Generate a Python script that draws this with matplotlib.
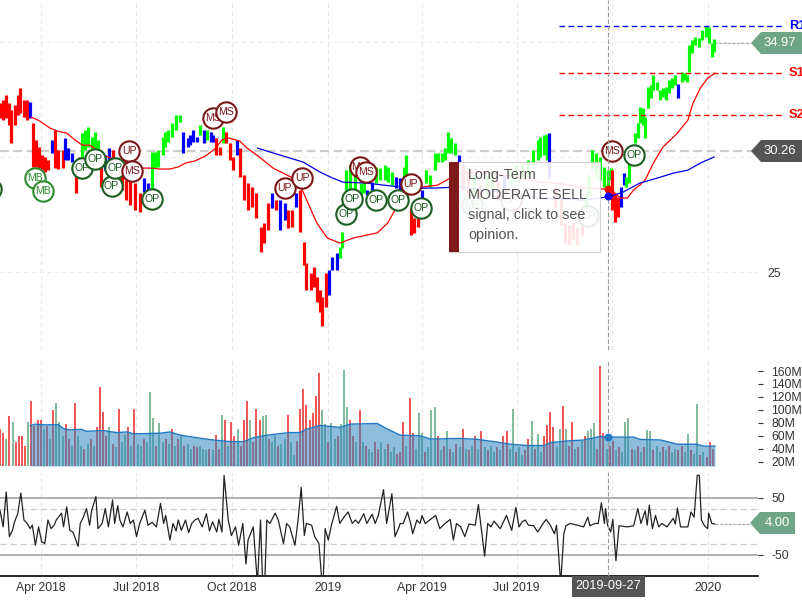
# %% Imports

import matplotlib

matplotlib.use("Agg")
import matplotlib.dates as mdates
import matplotlib.pyplot as plt
import numpy as np
from matplotlib.patches import Polygon, Rectangle

plt.rcParams["font.family"] = ["Liberation Sans", "DejaVu Sans"]
plt.rcParams["font.size"] = 8.8

W, H = 802, 600

# %% Data (days are counted from the left edge of the chart)

bar_day = [
    0, 3, 6, 9, 11, 14, 17, 19, 23, 26,
    29, 32, 35, 37, 40, 43, 46, 50, 53, 56,
    60, 62, 65, 69, 73, 76, 79, 82, 84, 88,
    91, 94, 97, 101, 105, 108, 113, 117, 121, 125,
    130, 134, 138, 142, 146, 149, 152, 156, 158, 161,
    165, 169, 173, 176, 180, 182, 185, 189, 192, 196,
    199, 202, 204, 207, 211, 214, 217, 221, 224, 227,
    230, 234, 238, 242, 246, 250, 253, 257, 261, 265,
    269, 273, 276, 280, 284, 288, 292, 294, 298, 301,
    304, 307, 309, 313, 316, 319, 323, 326, 328, 332,
    336, 341, 346, 349, 352, 357, 361, 365, 369, 372,
    376, 380, 384, 388, 390, 394, 397, 401, 405, 409,
    413, 417, 420, 424, 427, 430, 433, 437, 440, 444,
    449, 455, 461, 467, 472, 478, 484, 490, 495, 501,
    507, 511, 516, 518, 522, 525, 527, 533, 538, 542,
    546, 550, 554, 558, 562, 565, 568, 572, 576, 580,
    583, 586, 587, 590, 593, 596, 599, 601, 604, 607,
    609, 612, 614, 617, 619, 622, 625, 627, 630, 633,
    636, 639, 642, 645, 648, 651, 654, 657, 659, 661,
    664, 667, 671, 674, 677, 680, 683, 685,
]
bar_high = [
    32.35, 32.48, 32.70, 32.35, 32.04, 32.26, 32.70, 33.00, 32.48, 32.48,
    32.39, 31.48, 30.74, 30.43, 30.09, 30.00, 29.87, 30.74, 31.17, 30.30,
    30.30, 30.83, 30.39, 30.17, 29.87, 30.00, 31.04, 31.17, 31.30, 30.87,
    31.09, 30.74, 29.57, 30.09, 30.39, 30.30, 29.43, 29.22, 29.00, 29.00,
    28.87, 28.43, 29.09, 28.87, 30.22, 30.22, 30.30, 30.87, 31.09, 31.17,
    31.48, 31.83, 31.83, 31.09, 30.83, 30.96, 31.17, 30.87, 31.39, 31.17,
    31.17, 31.09, 30.96, 30.83, 30.43, 31.30, 31.09, 30.61, 30.00, 30.74,
    30.39, 29.22, 28.87, 28.70, 28.43, 26.96, 27.13, 28.00, 28.43, 28.13,
    28.13, 28.00, 27.70, 27.70, 28.43, 28.57, 26.30, 25.39, 24.96, 25.22,
    24.78, 24.22, 23.91, 24.96, 25.09, 25.65, 25.83, 26.09, 26.74, 29.43,
    29.65, 29.22, 28.87, 29.43, 28.57, 28.91, 29.57, 29.52, 29.65, 29.57,
    29.35, 29.13, 29.09, 29.57, 30.09, 27.78, 27.35, 27.35, 28.57, 29.43,
    29.22, 30.17, 30.17, 30.17, 30.39, 31.09, 30.83, 30.61, 30.09, 29.65,
    29.43, 29.22, 28.78, 29.22, 29.43, 29.00, 29.22, 29.43, 29.65, 29.74,
    29.87, 30.30, 30.74, 30.87, 30.96, 31.00, 31.04, 28.70, 28.13, 27.13,
    27.04, 27.17, 26.91, 27.48, 28.35, 29.22, 30.30, 30.17, 30.00, 29.57,
    29.43, 29.52, 29.43, 28.43, 28.26, 28.70, 29.30, 29.13, 29.87, 30.52,
    31.04, 31.48, 32.17, 32.13, 31.74, 33.04, 33.13, 33.57, 33.26, 32.91,
    33.00, 33.04, 33.35, 33.43, 33.57, 33.17, 33.70, 33.65, 33.57, 34.87,
    35.09, 35.22, 35.17, 35.52, 35.70, 35.65, 34.96, 35.13,
]
bar_low = [
    31.70, 31.61, 31.70, 31.40, 30.60, 31.40, 31.83, 31.91, 31.74, 31.61,
    31.70, 29.57, 29.57, 29.52, 29.43, 29.35, 29.43, 30.17, 29.52, 29.48,
    29.52, 29.87, 29.87, 29.78, 28.43, 29.22, 30.00, 30.30, 30.43, 30.30,
    30.39, 29.87, 28.70, 29.43, 29.57, 29.35, 28.78, 28.57, 28.13, 27.91,
    27.70, 27.61, 28.48, 28.35, 28.35, 29.52, 29.57, 30.09, 30.43, 30.65,
    30.87, 31.17, 31.52, 30.17, 30.43, 30.52, 30.65, 30.65, 30.96, 30.61,
    30.74, 30.65, 30.65, 30.09, 30.09, 30.61, 30.61, 29.87, 29.43, 30.09,
    29.13, 28.13, 27.70, 27.83, 27.35, 25.87, 26.26, 26.83, 27.78, 27.70,
    26.83, 27.26, 26.91, 26.96, 27.83, 26.74, 25.30, 24.22, 24.22, 24.35,
    23.70, 23.26, 22.65, 23.48, 24.00, 25.09, 25.09, 25.61, 26.04, 28.57,
    28.57, 28.35, 28.35, 28.43, 28.35, 28.57, 28.87, 29.00, 29.00, 28.91,
    28.78, 28.65, 28.57, 29.09, 29.22, 26.61, 26.70, 26.96, 28.13, 28.87,
    28.70, 29.43, 29.78, 29.78, 29.87, 30.17, 30.17, 30.09, 29.78, 28.57,
    28.13, 28.35, 27.91, 28.35, 28.57, 28.13, 28.57, 28.78, 29.00, 29.09,
    29.22, 29.65, 29.87, 30.00, 30.09, 29.87, 29.09, 27.83, 27.04, 26.26,
    26.17, 26.39, 26.17, 26.61, 27.48, 28.35, 29.43, 29.13, 29.00, 28.70,
    28.70, 29.00, 27.70, 27.17, 27.39, 27.83, 28.78, 28.70, 28.87, 29.65,
    30.61, 30.83, 31.48, 31.39, 30.83, 32.13, 32.57, 32.91, 32.91, 32.48,
    32.61, 32.48, 32.78, 33.00, 33.13, 32.57, 33.26, 33.35, 33.26, 33.70,
    34.52, 34.87, 34.78, 35.09, 35.22, 34.96, 34.35, 34.57,
]
bar_trend = (
    "rrrrrrrrrr" "brrrrrrbrr" "rbbbrrgggg" "ggrbbrrrrr" "rrbbgggggg"
    "gggbbbbbgb" "gbbrrgrrrb" "rrrrrrrrbr" "bbrrbrrrrr" "rrrrbbbggg"
    "ggggbbgggg" "gbbggrrrbg" "ggggggggbr" "rgrggrbggg" "ggggggbrrr"
    "rrrrgggggg" "ggrrrbbggg" "gggggggggg" "gggggbgggg" "gggggggg"
)

red_ma_day = [
    30, 38, 48, 55, 64, 72, 79, 86, 93, 99, 106, 115, 125, 134, 144, 154, 163,
    171, 178, 187, 197, 206, 213, 219, 230, 237, 245, 250, 262, 281, 290, 304,
    314, 326, 339, 352, 362, 372, 379, 387, 406, 420, 432, 442, 461, 490, 518,
    541, 562, 576, 586, 595, 602, 608, 614, 619, 627, 636, 650, 660, 665, 672,
    679, 686,
]
red_ma = [
    31.74, 31.57, 31.26, 31.13, 31.04, 30.74, 30.52, 30.52, 30.30, 30.09,
    29.96, 29.87, 29.70, 29.52, 29.52, 29.48, 29.48, 29.57, 29.74, 29.83,
    30.04, 30.35, 30.74, 30.83, 30.70, 30.39, 30.13, 29.96, 29.52, 29.09,
    28.57, 27.13, 26.48, 26.26, 26.48, 26.61, 26.70, 27.13, 27.70, 28.22,
    28.70, 28.78, 29.09, 29.30, 29.35, 29.17, 28.91, 28.83, 28.65, 28.61,
    28.61, 28.22, 28.22, 28.57, 28.78, 29.00, 29.74, 30.43, 31.04, 31.61,
    32.35, 33.00, 33.43, 33.65,
]
blue_ma_day = [
    247, 259, 291, 307, 319, 329, 352, 368, 384, 400, 416, 442, 480, 518, 560,
    576, 586, 598, 614, 631, 646, 660, 672, 685,
]
blue_ma = [
    30.39, 30.22, 29.78, 29.35, 29.09, 28.91, 28.87, 28.78, 28.70, 28.65,
    28.65, 28.70, 28.48, 28.22, 28.13, 28.22, 28.30, 28.48, 28.87, 29.09,
    29.30, 29.43, 29.74, 30.00,
]

signal_day = [
    -9, 34, 41, 79, 91, 107, 110, 124, 127, 146, 204, 217, 273, 290, 332, 338,
    345, 351, 361, 382, 394, 404, 453, 490, 564, 587, 608,
]
signal_price = [
    28.61, 29.09, 28.52, 29.52, 29.91, 28.74, 29.52, 30.26, 29.39, 28.17,
    31.70, 31.96, 28.65, 29.09, 27.52, 28.17, 29.57, 29.35, 28.13, 28.13,
    28.83, 27.78, 27.91, 28.13, 27.43, 30.26, 30.09,
]
signal_label = [
    "OP", "MB", "MB", "OP", "OP", "OP", "OP", "UP", "MS", "OP",
    "MS", "MS", "UP", "UP", "OP", "OP", "MS", "MS", "OP", "OP",
    "UP", "OP", "MB", "UP", "OP", "MS", "OP",
]

volume = [
    71, 64, 55, 90, 82, 51, 60, 60, 45, 82,
    114, 75, 84, 84, 70, 75, 55, 100, 110, 82,
    60, 78, 55, 45, 110, 60, 45, 40, 48, 55,
    45, 73, 135, 97, 60, 73, 48, 42, 102, 50,
    62, 73, 45, 101, 48, 45, 55, 50, 128, 87,
    45, 80, 50, 55, 48, 70, 45, 55, 60, 45,
    48, 40, 45, 42, 45, 40, 38, 40, 38, 62,
    40, 92, 85, 45, 82, 60, 70, 45, 85, 113,
    84, 50, 102, 85, 90, 92, 55, 50, 60, 45,
    48, 55, 92, 50, 30, 52, 102, 133, 107, 85,
    95, 121, 157, 100, 78, 50, 80, 55, 60, 78,
    162, 105, 85, 60, 50, 100, 50, 45, 40, 35,
    50, 40, 50, 40, 48, 35, 42, 32, 35, 82,
    45, 118, 65, 40, 95, 65, 35, 42, 100, 104,
    60, 38, 45, 68, 40, 35, 48, 42, 71, 40,
    38, 45, 60, 40, 68, 42, 38, 45, 35, 42,
    38, 60, 68, 40, 101, 35, 42, 30, 38, 55,
    83, 40, 63, 35, 60, 77, 96, 73, 42, 70,
    106, 70, 45, 82, 40, 42, 52, 60, 68, 70,
    80, 40, 168, 65, 40, 45, 52, 38, 42, 35,
    82, 87, 40, 38, 45, 35, 42, 69, 68, 38,
    45, 35, 42, 38, 45, 35, 40, 38, 45, 35,
    63, 38, 32, 109, 30, 35, 28, 50, 40,
]
volume_side = (
    "rrgrgrrrrg" "rrrrgrgrgg" "grrgrggrgr" "grrrrgrgrg" "grgrggrggg"
    "rggrgrgrgr" "ggrrgggrgr" "rgrgrrgrrr" "grrrggrggr" "ggrggrrrrr"
    "rrrggrggrg" "ggrrgrgrgg" "rrggrggrrr" "grrgggrggg" "rgrgrgrgrg"
    "rgrgrgrggr" "grrggrggrr" "grggrrrrgg" "rgrrgrgrgg" "grrrgrrgrg"
    "ggrgrgrggr" "ggrgrggrrg" "grggrgrrr"
)
vol_ma_day = [
    29, 34, 40, 56, 61, 67, 78, 83, 99, 112,
    122, 128, 154, 163, 173, 189, 202, 221, 234, 243,
    256, 278, 288, 294, 307, 326, 336, 362, 371, 384,
    403, 413, 442, 458, 474, 490, 506, 522, 528, 544,
    560, 576, 589, 608, 614, 634, 650, 669, 675, 686,
]
vol_ma = [
    75.6, 78, 77, 77, 71, 69, 70, 67, 68, 65,
    66, 63, 64, 66, 61, 57, 54, 51, 51, 57,
    61, 65, 65, 70, 76, 73, 78, 79, 71, 61,
    60, 55, 56, 54.5, 51, 47, 45, 45, 49.4, 52,
    53.5, 59, 58, 58, 54.5, 53.5, 47, 47, 44, 44,
]

cci_day = [
    0, 3, 6, 9, 12, 14, 17, 20, 23, 26, 29, 31, 34, 37, 40, 43, 46, 49, 52, 54,
    59, 61, 64, 67, 70, 75, 77, 80, 83, 86, 88, 92, 94, 98, 101, 104, 108, 110,
    113, 115, 118, 122, 125, 128, 131, 134, 139, 142, 146, 150, 154, 157, 159,
    163, 166, 169, 171, 174, 178, 181, 184, 187, 190, 194, 198, 201, 204, 208,
    210, 213, 215, 219, 222, 226, 229, 233, 236, 238, 243, 247, 250, 252, 254,
    256, 259, 264, 267, 272, 275, 278, 283, 286, 289, 292, 294, 299, 302, 306,
    309, 310, 312, 315, 318, 323, 326, 330, 334, 338, 341, 344, 349, 352, 357,
    360, 363, 368, 371, 376, 379, 383, 384, 387, 391, 394, 396, 400, 403, 405,
    408, 413, 418, 422, 427, 432, 435, 438, 442, 446, 450, 456, 459, 462, 465,
    468, 471, 474, 480, 486, 491, 495, 498, 501, 504, 507, 512, 516, 520, 524,
    528, 532, 534, 538, 541, 543, 547, 554, 560, 564, 566, 571, 574, 577, 580,
    581, 583, 586, 588, 591, 594, 602, 608, 612, 615, 619, 621, 623, 626, 629,
    632, 635, 640, 646, 648, 650, 653, 660, 663, 666, 669, 671, 673, 676, 679,
    680, 683, 686,
]
cci = [
    28, -1, 60, -18, -7, 8, 22, 58, 11, 5, -4, 2, -33, -1, -27, -30, 11, -4, 2, 11,
    23, -1, 34, -7, -10, -35, 5, 16, 31, 2, 28, 52, -4, 5, 31, -1, 46, 5,
    36, 11, -1, 25, 5, 11, -18, 5, 28, 2, 7, -1, 40, 5, 19,
    -24, 5, -8, 11, -7, 11, -11, 5, 11, 14, -1, 22, -8, 8, -10,
    12, -10, 89, 11, -16, -1, -33, 5, -66, -24, -1, -100, 11, -100, -100,
    11, 5, 23, 11, -30, 5, -1, -33, 11, 68, -16, 5, 2, -18, -30,
    -100, -100, -4, -24, 2, 35, 5, 16, 25, 5, 11, 5, 22, 5, 21,
    5, 19, 64, 5, 57, -18, -1, 5, 5, 25, 5, -13, 11, 5, 19,
    5, 12, 19, -4, 5, 12, -24, 5, -1, -18, 4, 2, 38, -7, -52,
    5, -1, 9, -4, 19, -7, 33, -1, 8, 11, 2, 1, -10, 2, 12,
    2, -13, 2, -100, -13, 1, 5, 2, -1, 16, 1, 5, 5, 41, 5,
    31, 2, -10, 12, -60, 1, -1, 1, 31, 5, 27, 2, 37, -4, 19,
    -1, 5, -1, 14, 4, 32, -1, -1, 25, 16, 89, 89, 11, 1, -4,
    23, 5, 4,
]

volume_ticks = [20, 40, 60, 80, 100, 120, 140, 160]
volume_tick_labels = ["20M", "40M", "60M", "80M", "100M", "120M", "140M", "160M"]
date_ticks = ["2018-04-01", "2018-07-01", "2018-10-01", "2019-01-01", "2019-04-01",
              "2019-07-01", "2019-10-01", "2020-01-01"]
date_labels = ["Apr 2018", "Jul 2018", "Oct 2018", "2019", "Apr 2019", "Jul 2019", "", "2020"]

last_close = 34.97
hover_close = 30.26
last_cci = 4.00
levels = {"R1": 35.70, "S1": 33.65, "S2": 31.83}
level_colors = {"R1": "#0000ff", "S1": "#ff0000", "S2": "#ff0000"}
cursor_date = "2019-09-27"

# %% Layout helpers

DAY0 = mdates.date2num(np.datetime64("2018-02-20")) + 0.4
PX_PER_DAY = 1.0422
AX_RIGHT = 758


def dx(days):
    return DAY0 + np.asarray(days, dtype=float)


def panel(top, bottom):
    ax = fig.add_axes([0, 1 - bottom / H, AX_RIGHT / W, (bottom - top) / H])
    ax.patch.set_alpha(0)
    ax.set_xlim(DAY0, DAY0 + AX_RIGHT / PX_PER_DAY)
    for side in ["top", "left", "right", "bottom"]:
        ax.spines[side].set_visible(False)
    ax.yaxis.tick_right()
    ax.set_xticks(mdates.date2num(np.array(date_ticks, dtype="datetime64[D]")))
    ax.set_xticklabels([])
    ax.tick_params(axis="x", length=0)
    ax.grid(axis="x", color="#e6e6e6", linestyle=(0, (4, 3)), linewidth=0.8, zorder=0)
    ax.set_axisbelow(True)
    return ax


def tag(left, top, bottom, right, color, text, text_x):
    mid = (top + bottom) / 2
    pts = [(left, mid), (left + 10, top), (right, top), (right, bottom), (left + 10, bottom)]
    fig.add_artist(Polygon([(x / W, 1 - y / H) for x, y in pts], closed=True, transform=fig.transFigure,
                           facecolor=color, edgecolor="none", zorder=6))
    fig.text(text_x / W, 1 - mid / H, text, color="white", ha="center", va="center",
             fontsize=9.4, zorder=7)


fig = plt.figure(figsize=(W / 100, H / 100), dpi=100)
cursor_x = mdates.date2num(np.datetime64(cursor_date))

# %% Price panel

ax = panel(0, 350)
ax.set_ylim(21.61, 36.83)
ax.set_yticks([25])
ax.set_yticklabels(["25"])
ax.tick_params(axis="y", length=0, pad=6.5, labelcolor="#333333")
for level in [25, 30, 35]:
    ax.axhline(level, color="#ececec", linestyle=(0, (4, 3)), linewidth=0.8, zorder=0)

ax.hlines(hover_close, DAY0, DAY0 + 724, color="#cccccc", linestyle=(0, (4, 2)), linewidth=1.6, zorder=1)
ax.plot(dx([685, 720]), [last_close, last_close], color="#aaaaaa", linestyle=(0, (3, 1)), linewidth=0.8, zorder=1)

colors = {"r": "#ff0000", "g": "#00ff00", "b": "#0000ff"}
ax.vlines(dx(bar_day), bar_low, bar_high, colors=[colors[c] for c in bar_trend], linewidth=2.3, zorder=2)
ax.plot(dx(red_ma_day), red_ma, color="#ff0000", linewidth=0.9, zorder=3)
ax.plot(dx(blue_ma_day), blue_ma, color="#0000e0", linewidth=0.9, zorder=3)

for name, value in levels.items():
    ax.plot(dx([536, 750]), [value, value], color=level_colors[name], linestyle=(0, (4, 2.5)),
            linewidth=1.0, clip_on=False, zorder=3)
    ax.text(dx(757), value, name, color=level_colors[name], fontweight="bold", fontsize=9.4,
            va="center", ha="left", clip_on=False)

for day, price, label in zip(signal_day, signal_price, signal_label):
    if label == "OP":
        edge = "#1b5e20"
    elif label == "MB":
        edge = "#2e8b2e"
    else:
        edge = "#7b1616"
    ax.scatter(dx(day), price, s=215, facecolor="white", edgecolor=edge, linewidth=1.5, zorder=4)
    ax.text(dx(day), price, label, color=edge, fontsize=7.6, ha="center", va="center", zorder=4, clip_on=True)

ax.axvline(cursor_x, color="#999999", linestyle=(0, (4, 2)), linewidth=0.8, zorder=4)
ax.scatter([cursor_x], [28.61], s=22, color="#ff0000", zorder=5)
ax.scatter([cursor_x], [28.30], s=22, color="#0000ff", zorder=5)

# %% Volume panel

ax_vol = panel(360, 466)
ax_vol.set_ylim(13.4, 177)
ax_vol.set_yticks(volume_ticks)
ax_vol.set_yticklabels(volume_tick_labels)
ax_vol.tick_params(axis="y", length=3.6, pad=6, width=0.8, color="#333333", labelcolor="#333333")
vol_colors = {"r": "#ea2626", "g": "#5fa67f"}
ax_vol.vlines(dx(np.arange(len(volume)) * 3), 13.4, volume, colors=[vol_colors[c] for c in volume_side],
              linewidth=1.1, zorder=2)
ax_vol.fill_between(dx(vol_ma_day), 13.4, vol_ma, color="#2f86c0", alpha=0.55, linewidth=0, zorder=3)
ax_vol.plot(dx(vol_ma_day), vol_ma, color="#1f78c1", linewidth=1.0, zorder=4)
ax_vol.axvline(cursor_x, color="#999999", linestyle=(0, (4, 2)), linewidth=0.8, zorder=4)
ax_vol.scatter([cursor_x], [58], s=22, color="#1f78c1", zorder=5)

# %% Oscillator panel

ax_cci = panel(472, 576)
ax_cci.set_ylim(-86.7, 94.8)
ax_cci.set_yticks([50, -50])
ax_cci.set_yticklabels(["50", "-50"])
ax_cci.tick_params(axis="y", length=3.6, pad=6, width=0.8, color="#333333", labelcolor="#333333")
for level in [50, -50]:
    ax_cci.axhline(level, color="#b0b0b0", linewidth=1.4, zorder=1)
for level in [30, -30]:
    ax_cci.axhline(level, color="#cccccc", linestyle=(0, (5, 3)), linewidth=0.9, zorder=1)
ax_cci.plot(dx(cci_day), cci, color="#222222", linewidth=0.9, zorder=3)
ax_cci.plot(dx([686, 720]), [last_cci, last_cci], color="#aaaaaa", linestyle=(0, (3, 1)), linewidth=0.8, zorder=2)
ax_cci.axvline(cursor_x, color="#999999", linestyle=(0, (4, 2)), linewidth=0.8, zorder=4)

ax_cci.spines["bottom"].set_visible(True)
ax_cci.spines["bottom"].set_linewidth(1.2)
ax_cci.spines["bottom"].set_color("black")
ax_cci.set_xticklabels(date_labels)
ax_cci.tick_params(axis="x", length=0, pad=4.5, labelcolor="#333333")

# %% Tags, date box and tooltip

tag(751, 32, 54, 802, "#6da586", f"{last_close:.2f}", 780)
tag(751, 140, 162, 802, "#555555", f"{hover_close:.2f}", 780)
tag(750, 512, 534, 795, "#6da586", f"{last_cci:.2f}", 777)

fig.add_artist(Rectangle((572 / W, 1 - 597 / H), 73 / W, 21 / H, transform=fig.transFigure,
                         facecolor="#555555", edgecolor="none", zorder=6))
fig.text(608.5 / W, 1 - 586 / H, cursor_date, color="white", ha="center", va="center", fontsize=9.2, zorder=7)

fig.add_artist(Rectangle((449 / W, 1 - 252 / H), 151 / W, 90 / H, transform=fig.transFigure,
                         facecolor="white", alpha=0.9, edgecolor="#cccccc", linewidth=0.8, zorder=8))
fig.add_artist(Rectangle((449 / W, 1 - 252 / H), 10 / W, 90 / H, transform=fig.transFigure,
                         facecolor="#7f1a1a", edgecolor="none", zorder=9))
for y, line in zip([175, 195, 215, 235], ["Long-Term", "MODERATE SELL", "signal, click to see", "opinion."]):
    fig.text(468 / W, 1 - y / H, line, color="#555555", fontsize=10.4, ha="left", va="center", zorder=9)

fig.savefig("out.png", dpi=100)
